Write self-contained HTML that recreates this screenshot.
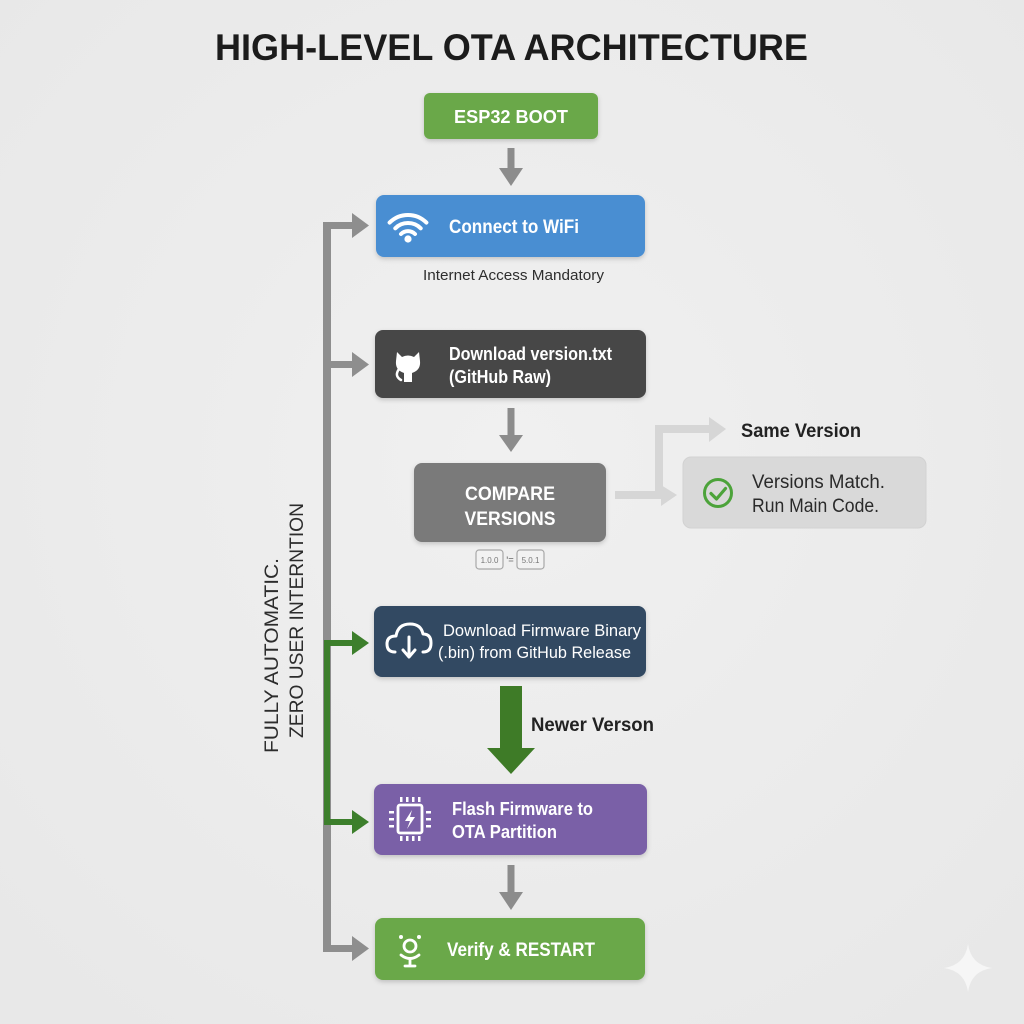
<!DOCTYPE html>
<html><head><meta charset="utf-8"><style>
html,body{margin:0;padding:0;background:#ececec;}
svg{display:block;}
text{font-family:"Liberation Sans",Arial,sans-serif;}
</style></head><body>
<svg width="1024" height="1024" viewBox="0 0 1024 1024" xmlns="http://www.w3.org/2000/svg">
<defs>
<radialGradient id="bg" cx="50%" cy="45%" r="70%">
<stop offset="0" stop-color="#f0f0f0"/><stop offset="1" stop-color="#e8e8e8"/>
</radialGradient>
<filter id="sh" x="-10%" y="-20%" width="120%" height="150%">
<feDropShadow dx="0" dy="2" stdDeviation="2.5" flood-color="#000" flood-opacity="0.18"/>
</filter>
</defs>
<rect width="1024" height="1024" fill="url(#bg)"/>

<!-- Title -->
<text x="215" y="60" font-size="37" font-weight="bold" fill="#1c1c1c" textLength="593" lengthAdjust="spacingAndGlyphs">HIGH-LEVEL OTA ARCHITECTURE</text>

<!-- Left gray loop -->
<g fill="#8e8e8e">
<rect x="323" y="222" width="8" height="730"/>
<rect x="323" y="222" width="32" height="7"/>
<polygon points="352,213 369,225.5 352,238"/>
<rect x="323" y="361" width="32" height="7"/>
<polygon points="352,352 369,364.5 352,377"/>
<rect x="323" y="945" width="32" height="7"/>
<polygon points="352,936 369,948.5 352,961"/>
</g>

<!-- Green connector -->
<g fill="#3d7f2c">
<rect x="324" y="640" width="6" height="185"/>
<rect x="324" y="640" width="31" height="6"/>
<polygon points="352,631 369,643 352,655"/>
<rect x="324" y="819" width="31" height="6"/>
<polygon points="352,810 369,822 352,834"/>
</g>

<!-- Vertical text -->
<text transform="translate(278,753) rotate(-90)" font-size="19" fill="#2c2c2c" textLength="195" lengthAdjust="spacingAndGlyphs">FULLY AUTOMATIC.</text>
<text transform="translate(303,738) rotate(-90)" font-size="19" fill="#2c2c2c" textLength="235" lengthAdjust="spacingAndGlyphs">ZERO USER INTERNTION</text>

<!-- ESP32 BOOT -->
<rect x="424" y="93" width="174" height="46" rx="6" fill="#6aa84a" filter="url(#sh)"/>
<text x="511" y="123" font-size="18" font-weight="bold" fill="#fff" text-anchor="middle" textLength="114" lengthAdjust="spacingAndGlyphs">ESP32 BOOT</text>

<!-- gray arrows -->
<g fill="#8c8c8c">
<rect x="507.5" y="148" width="7" height="22"/>
<polygon points="499,168 523,168 511,186"/>
<rect x="507.5" y="408" width="7" height="30"/>
<polygon points="499,435 523,435 511,452"/>
<rect x="507.5" y="865" width="7" height="28"/>
<polygon points="499,892 523,892 511,910"/>
</g>

<!-- Connect to WiFi -->
<rect x="376" y="195" width="269" height="62" rx="8" fill="#4a8ed2" filter="url(#sh)"/>
<g fill="none" stroke="#fff" stroke-width="4" stroke-linecap="round">
<path d="M389.6,222.6 A26,26 0 0 1 426.4,222.6"/>
<path d="M395.3,228.3 A18,18 0 0 1 420.7,228.3"/>
<path d="M401,234 A10,10 0 0 1 415,234"/>
</g>
<circle cx="408" cy="239" r="3.6" fill="#fff"/>
<text x="449" y="233" font-size="19" font-weight="bold" fill="#fff" textLength="130" lengthAdjust="spacingAndGlyphs">Connect to WiFi</text>
<text x="423" y="280" font-size="15" fill="#2e2e2e" textLength="181" lengthAdjust="spacingAndGlyphs">Internet Access Mandatory</text>

<!-- Download version.txt -->
<rect x="375" y="330" width="271" height="68" rx="8" fill="#474747" filter="url(#sh)"/>
<g fill="#fff">
<path d="M397,352 L402,357 Q408,354 414,357 L419,352 L420,361 Q421,370 412,373 L412,382 L404,382 L404,373 Q395,370 396,361 Z"/>
<path d="M399,369 Q394,376 401,380" fill="none" stroke="#fff" stroke-width="2.5" stroke-linecap="round"/>
</g>
<text x="449" y="360" font-size="18" font-weight="bold" fill="#fff" textLength="163" lengthAdjust="spacingAndGlyphs">Download version.txt</text>
<text x="449" y="383" font-size="18" font-weight="bold" fill="#fff" textLength="102" lengthAdjust="spacingAndGlyphs">(GitHub Raw)</text>

<!-- Compare Versions -->
<rect x="414" y="463" width="192" height="79" rx="8" fill="#7a7a7a" filter="url(#sh)"/>
<text x="510" y="500" font-size="19" font-weight="bold" fill="#fff" text-anchor="middle" textLength="90" lengthAdjust="spacingAndGlyphs">COMPARE</text>
<text x="510" y="525" font-size="19" font-weight="bold" fill="#fff" text-anchor="middle" textLength="91" lengthAdjust="spacingAndGlyphs">VERSIONS</text>

<!-- small version boxes -->
<rect x="476" y="550" width="27" height="19" rx="3" fill="#f2f2f2" stroke="#a8a8a8" stroke-width="1.2"/>
<text x="489.5" y="563" font-size="8" fill="#777" text-anchor="middle">1.0.0</text>
<text x="510" y="563" font-size="9" font-weight="bold" fill="#888" text-anchor="middle">'=</text>
<rect x="517" y="550" width="27" height="19" rx="3" fill="#f2f2f2" stroke="#a8a8a8" stroke-width="1.2"/>
<text x="530.5" y="563" font-size="8" fill="#777" text-anchor="middle">5.0.1</text>

<!-- light gray branch -->
<g fill="#d6d6d6">
<rect x="615" y="491" width="48" height="8"/>
<polygon points="661,485 677,495 661,506"/>
<rect x="655" y="425" width="8" height="70"/>
<rect x="655" y="425" width="56" height="8"/>
<polygon points="709,417 726,429 709,442"/>
</g>
<text x="741" y="437" font-size="19" font-weight="bold" fill="#222" textLength="120" lengthAdjust="spacingAndGlyphs">Same Version</text>

<!-- Versions Match box -->
<rect x="683" y="457" width="243" height="71" rx="8" fill="#d9d9d9" stroke="#d2d2d2" stroke-width="1"/>
<circle cx="718" cy="493" r="13.5" fill="none" stroke="#4ca33a" stroke-width="3"/>
<path d="M711,493.5 L716.5,499 L725.5,488.5" fill="none" stroke="#4ca33a" stroke-width="3.2" stroke-linecap="round" stroke-linejoin="round"/>
<text x="752" y="488" font-size="19" fill="#2a2a2a" textLength="133" lengthAdjust="spacingAndGlyphs">Versions Match.</text>
<text x="752" y="512" font-size="19" fill="#2a2a2a" textLength="127" lengthAdjust="spacingAndGlyphs">Run Main Code.</text>

<!-- Download Firmware -->
<rect x="374" y="606" width="272" height="71" rx="8" fill="#304862" filter="url(#sh)"/>
<path d="M395,652 Q387,652 387,644 Q387,636 396,636 Q398,624 410,624 Q421,624 423,634 Q431,634 431,643 Q431,652 423,652" fill="none" stroke="#fff" stroke-width="3" stroke-linecap="round" stroke-linejoin="round"/>
<path d="M409,637 L409,656 M403,650 L409,657 L415,650" fill="none" stroke="#fff" stroke-width="3" stroke-linecap="round" stroke-linejoin="round"/>
<text x="443" y="636" font-size="17" fill="#fff" textLength="198" lengthAdjust="spacingAndGlyphs">Download Firmware Binary</text>
<text x="438" y="658" font-size="17" fill="#fff" textLength="193" lengthAdjust="spacingAndGlyphs">(.bin) from GitHub Release</text>

<!-- Green big arrow -->
<g fill="#3e7b27">
<rect x="500" y="686" width="22" height="63"/>
<polygon points="487,748 535,748 511,774"/>
</g>
<text x="531" y="731" font-size="19" font-weight="bold" fill="#222" textLength="123" lengthAdjust="spacingAndGlyphs">Newer Verson</text>

<!-- Flash Firmware -->
<rect x="374" y="784" width="273" height="71" rx="8" fill="#7a61a7" filter="url(#sh)"/>
<g fill="#fff">
<rect x="398" y="805" width="24" height="28" rx="2" fill="none" stroke="#fff" stroke-width="2.8"/>
<rect x="400" y="797" width="2.5" height="5"/><rect x="406" y="797" width="2.5" height="5"/><rect x="412" y="797" width="2.5" height="5"/><rect x="418" y="797" width="2.5" height="5"/>
<rect x="400" y="836" width="2.5" height="5"/><rect x="406" y="836" width="2.5" height="5"/><rect x="412" y="836" width="2.5" height="5"/><rect x="418" y="836" width="2.5" height="5"/>
<rect x="389" y="811" width="5" height="2.5"/><rect x="389" y="818" width="5" height="2.5"/><rect x="389" y="825" width="5" height="2.5"/>
<rect x="426" y="811" width="5" height="2.5"/><rect x="426" y="818" width="5" height="2.5"/><rect x="426" y="825" width="5" height="2.5"/>
<polygon points="412,810 405,821 410,821 407,829 415,817 410,817"/>
</g>
<text x="452" y="815" font-size="18" font-weight="bold" fill="#fff" textLength="141" lengthAdjust="spacingAndGlyphs">Flash Firmware to</text>
<text x="452" y="838" font-size="18" font-weight="bold" fill="#fff" textLength="105" lengthAdjust="spacingAndGlyphs">OTA Partition</text>

<!-- Verify & RESTART -->
<rect x="375" y="918" width="270" height="62" rx="8" fill="#6aa84a" filter="url(#sh)"/>
<g fill="none" stroke="#fff" stroke-width="2.8" stroke-linecap="round">
<circle cx="410" cy="946" r="6"/>
<path d="M401,955 Q410,962 419,955"/>
<path d="M410,959 L410,966 M405,966 L415,966"/>
</g>
<circle cx="401" cy="937" r="2" fill="#fff"/>
<circle cx="419" cy="937" r="2" fill="#fff"/>
<text x="447" y="956" font-size="19" font-weight="bold" fill="#fff" textLength="148" lengthAdjust="spacingAndGlyphs">Verify &amp; RESTART</text>

<!-- sparkle -->
<path d="M968,944 Q971,965 992,968 Q971,971 968,992 Q965,971 944,968 Q965,965 968,944 Z" fill="#f6f6f6"/>
</svg>
</body></html>
